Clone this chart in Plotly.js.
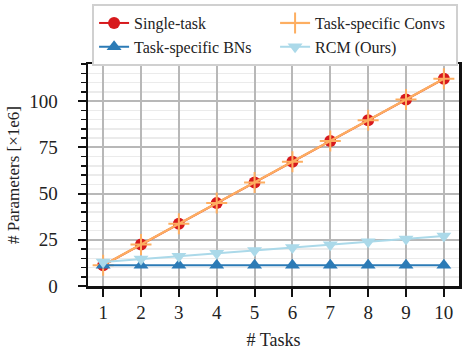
<!DOCTYPE html>
<html>
<head>
<meta charset="utf-8">
<script src="https://cdn.plot.ly/plotly-3.0.1.min.js"></script>
<style>html,body{margin:0;padding:0;background:#fff;}#chart{width:462px;height:350px;}</style>
</head>
<body>
<div id="chart"></div>
<script>
const tasks = [1, 2, 3, 4, 5, 6, 7, 8, 9, 10];
const singleTask = [11.2, 22.4, 33.6, 44.8, 56.0, 67.2, 78.4, 89.6, 100.8, 112.0];
const taskConvs = [11.2, 22.4, 33.6, 44.8, 56.0, 67.2, 78.4, 89.6, 100.8, 112.0];
const taskBNs = [11.2, 11.2, 11.2, 11.2, 11.2, 11.2, 11.2, 11.2, 11.2, 11.2];
const rcm = [13.0, 14.6, 16.1, 17.7, 19.2, 20.8, 22.3, 23.9, 25.4, 27.0];
const names = ['Single-task', 'Task-specific Convs', 'Task-specific BNs', 'RCM (Ours)'];

const font = "Liberation Serif";
const traces = [
  {x: tasks, y: singleTask, name: names[0], mode: 'lines+markers',
   line: {color: '#d7191c', width: 2}, marker: {symbol: 'circle', size: 12, color: '#d7191c'}},
  {x: tasks, y: taskConvs, name: names[1], mode: 'lines+markers',
   line: {color: '#fdae61', width: 2.2}, marker: {symbol: 'cross-thin', size: 15, color: '#fdae61', line: {color: '#fdae61', width: 2}}},
  {x: tasks, y: taskBNs, name: names[2], mode: 'lines+markers',
   line: {color: '#2c7bb6', width: 2}, marker: {symbol: 'triangle-up', size: 13, color: '#2c7bb6'}},
  {x: tasks, y: rcm, name: names[3], mode: 'lines+markers',
   line: {color: '#abd9e9', width: 2}, marker: {symbol: 'triangle-down', size: 13, color: '#abd9e9'}}
];

const layout = {
  width: 462, height: 350,
  margin: {l: 88, r: 3, t: 64, b: 64},
  paper_bgcolor: '#fff', plot_bgcolor: '#fff',
  font: {family: font, color: '#222', size: 16},
  showlegend: true,
  legend: {
    orientation: 'h', x: 0.011, xanchor: 'left', y: 1.27, yanchor: 'top',
    entrywidth: 136, entrywidthmode: 'pixels',
    bordercolor: '#d0d0d0', borderwidth: 2, bgcolor: '#fff',
    font: {family: font, size: 16, color: '#222'},
    traceorder: 'normal'
  },
  xaxis: {
    range: [0.6, 10.4], tickvals: tasks, ticktext: tasks.map(String),
    showline: true, linecolor: '#111', linewidth: 2.5, mirror: true,
    ticks: 'outside', ticklen: 8, tickwidth: 2, tickcolor: '#111',
    showgrid: true, gridcolor: '#b8b8b8', gridwidth: 2, zeroline: false,
    tickfont: {family: font, size: 19, color: '#222'},
    title: {text: '# Tasks', font: {family: font, size: 18}, standoff: 14}
  },
  yaxis: {
    range: [0, 120], tickvals: [0, 25, 50, 75, 100],
    showline: true, linecolor: '#111', linewidth: 2.5, mirror: true,
    ticks: 'outside', ticklen: 8, tickwidth: 2, tickcolor: '#111',
    ticklabelstandoff: 16,
    showgrid: true, gridcolor: '#b8b8b8', gridwidth: 2, zeroline: false,
    minor: {dtick: 5, ticks: 'outside', ticklen: 5, tickwidth: 1.5, tickcolor: '#111', showgrid: true, gridcolor: '#ebebeb', gridwidth: 1.5},
    tickfont: {family: font, size: 19, color: '#222'},
    title: {text: '# Parameters [×1e6]', font: {family: font, size: 17}, standoff: 6}
  }
};

Plotly.newPlot('chart', traces, layout, {displayModeBar: false, staticPlot: true});
</script>
</body>
</html>
